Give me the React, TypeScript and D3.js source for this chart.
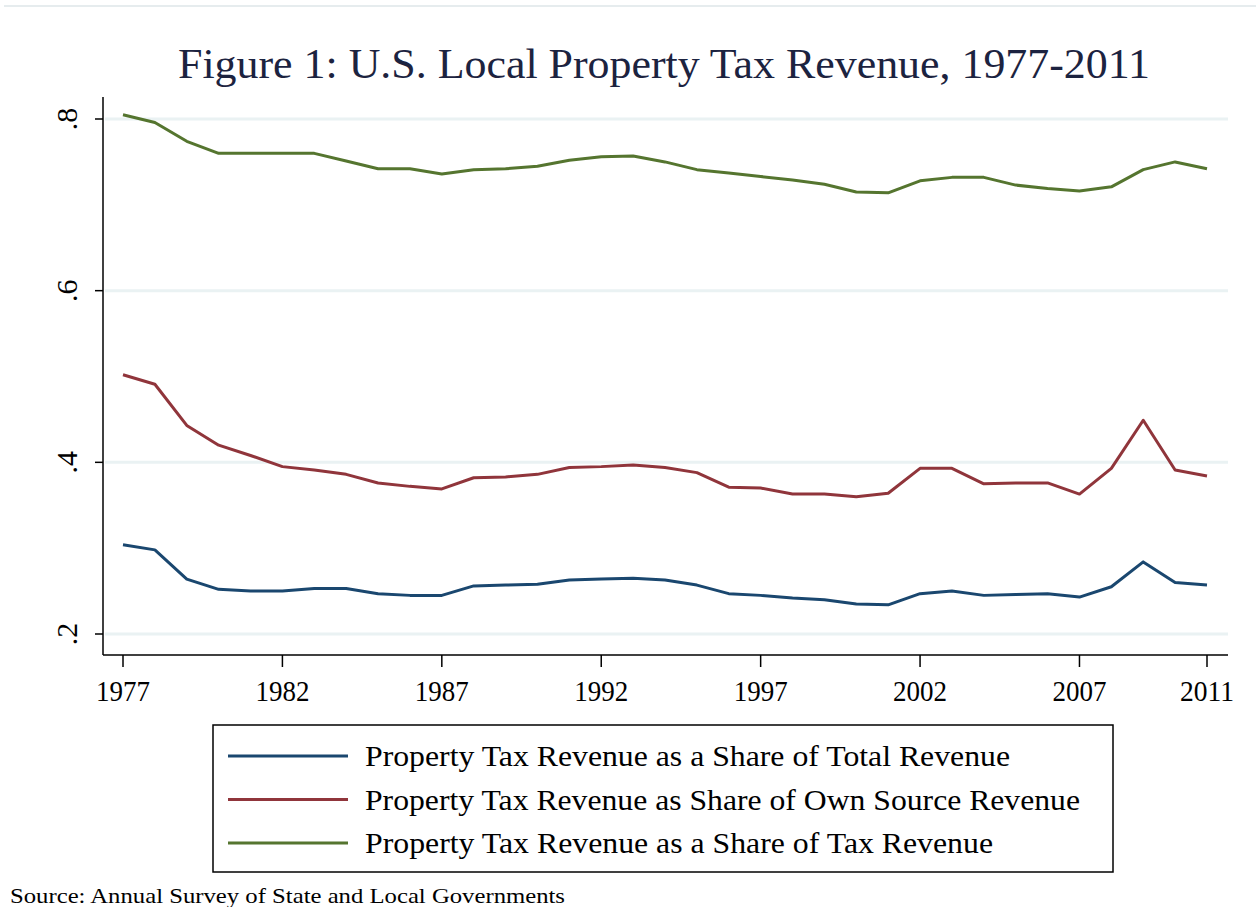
import React from "react";
import * as d3 from "d3";

const years: number[] = [
  1977, 1978, 1979, 1980, 1981, 1982, 1983, 1984, 1985, 1986, 1987, 1988,
  1989, 1990, 1991, 1992, 1993, 1994, 1995, 1996, 1997, 1998, 1999, 2000,
  2001, 2002, 2003, 2004, 2005, 2006, 2007, 2008, 2009, 2010, 2011,
];

const shareTotal: number[] = [
  0.304, 0.298, 0.264, 0.252, 0.25, 0.25, 0.253, 0.253, 0.247, 0.245, 0.245,
  0.256, 0.257, 0.258, 0.263, 0.264, 0.265, 0.263, 0.257, 0.247, 0.245, 0.242,
  0.24, 0.235, 0.234, 0.247, 0.25, 0.245, 0.246, 0.247, 0.243, 0.255, 0.284,
  0.26, 0.257,
];

const shareOwnSource: number[] = [
  0.502, 0.491, 0.443, 0.42, 0.408, 0.395, 0.391, 0.386, 0.376, 0.372, 0.369,
  0.382, 0.383, 0.386, 0.394, 0.395, 0.397, 0.394, 0.388, 0.371, 0.37, 0.363,
  0.363, 0.36, 0.364, 0.393, 0.393, 0.375, 0.376, 0.376, 0.363, 0.393, 0.449,
  0.391, 0.384,
];

const shareTax: number[] = [
  0.805, 0.796, 0.774, 0.76, 0.76, 0.76, 0.76, 0.751, 0.742, 0.742, 0.736,
  0.741, 0.742, 0.745, 0.752, 0.756, 0.757, 0.75, 0.741, 0.737, 0.733, 0.729,
  0.724, 0.715, 0.714, 0.728, 0.732, 0.732, 0.723, 0.719, 0.716, 0.721, 0.741,
  0.75, 0.742,
];

const seriesNames: string[] = [
  "Property Tax Revenue as a Share of Total Revenue",
  "Property Tax Revenue as Share of Own Source Revenue",
  "Property Tax Revenue as a Share of Tax Revenue",
];

const xTicks: number[] = [1977, 1982, 1987, 1992, 1997, 2002, 2007, 2011];
const yTicks: number[] = [0.2, 0.4, 0.6, 0.8];
const yTickLabels: string[] = [".2", ".4", ".6", ".8"];

const titleText = "Figure 1: U.S. Local Property Tax Revenue, 1977-2011";
const sourceText = "Source: Annual Survey of State and Local Governments";

const colors = ["#1a476f", "#90353b", "#55752f"];
const FONT = "'Liberation Serif', 'Times New Roman', serif";

export default function App() {
  const x = d3.scaleLinear().domain([1977, 2011]).range([123, 1207]);
  const y = d3.scaleLinear().domain([0.2, 0.8]).range([634, 119]);

  const allSeries = [shareTotal, shareOwnSource, shareTax];
  const line = d3
    .line<number>()
    .x((_, i) => x(years[i]))
    .y((d) => y(d));

  const axisLeft = 103;
  const axisRight = 1228;
  const axisBottom = 655;
  const axisTop = 97;

  const legendTextWidths = [645, 715, 628];

  return (
    <svg
      width={1256}
      height={907}
      style={{ position: "absolute", left: 0, top: 0, background: "#ffffff" }}
      fontFamily={FONT}
    >
      <rect x={0} y={0} width={1256} height={907} fill="#ffffff" />
      <line x1={4} x2={1256} y1={6} y2={6} stroke="#e6ecee" strokeWidth={2} />

      <text
        x={178}
        y={78}
        fontSize={42}
        fill="#1c2340"
        textLength={972}
        lengthAdjust="spacingAndGlyphs"
      >
        {titleText}
      </text>

      {yTicks.map((t) => (
        <line
          key={"g" + t}
          x1={axisLeft + 2}
          x2={axisRight}
          y1={y(t)}
          y2={y(t)}
          stroke="#eaf2f3"
          strokeWidth={3}
        />
      ))}

      <line x1={axisLeft} x2={axisLeft} y1={axisTop} y2={axisBottom} stroke="#000" strokeWidth={1.5} />
      <line x1={axisLeft} x2={axisRight} y1={axisBottom} y2={axisBottom} stroke="#000" strokeWidth={1.5} />

      {yTicks.map((t, i) => (
        <g key={"yt" + t}>
          <line x1={axisLeft - 8} x2={axisLeft} y1={y(t)} y2={y(t)} stroke="#000" strokeWidth={1.5} />
          <text
            transform={`translate(77, ${y(t)}) rotate(-90)`}
            textAnchor="middle"
            fontSize={30}
            fill="#000"
          >
            {yTickLabels[i]}
          </text>
        </g>
      ))}

      {xTicks.map((t) => (
        <g key={"xt" + t}>
          <line x1={x(t)} x2={x(t)} y1={axisBottom} y2={axisBottom + 12} stroke="#000" strokeWidth={1.5} />
          <text
            x={x(t)}
            y={701}
            textAnchor="middle"
            fontSize={29}
            fill="#000"
            textLength={54}
            lengthAdjust="spacingAndGlyphs"
          >
            {String(t)}
          </text>
        </g>
      ))}

      {allSeries.map((s, i) => (
        <path
          key={"s" + i}
          d={line(s) || ""}
          fill="none"
          stroke={colors[i]}
          strokeWidth={3}
          strokeLinejoin="round"
        />
      ))}

      <rect x={213} y={725} width={900} height={147} fill="#fff" stroke="#000" strokeWidth={1.5} />
      {seriesNames.map((n, i) => {
        const ly = 756 + i * 43.5;
        return (
          <g key={"l" + i}>
            <line x1={228} x2={348} y1={ly} y2={ly} stroke={colors[i]} strokeWidth={3} />
            <text
              x={365}
              y={ly + 10}
              fontSize={29}
              fill="#000"
              textLength={legendTextWidths[i]}
              lengthAdjust="spacingAndGlyphs"
            >
              {n}
            </text>
          </g>
        );
      })}

      <text
        x={10}
        y={903}
        fontSize={22}
        fill="#000"
        textLength={555}
        lengthAdjust="spacingAndGlyphs"
      >
        {sourceText}
      </text>
    </svg>
  );
}
